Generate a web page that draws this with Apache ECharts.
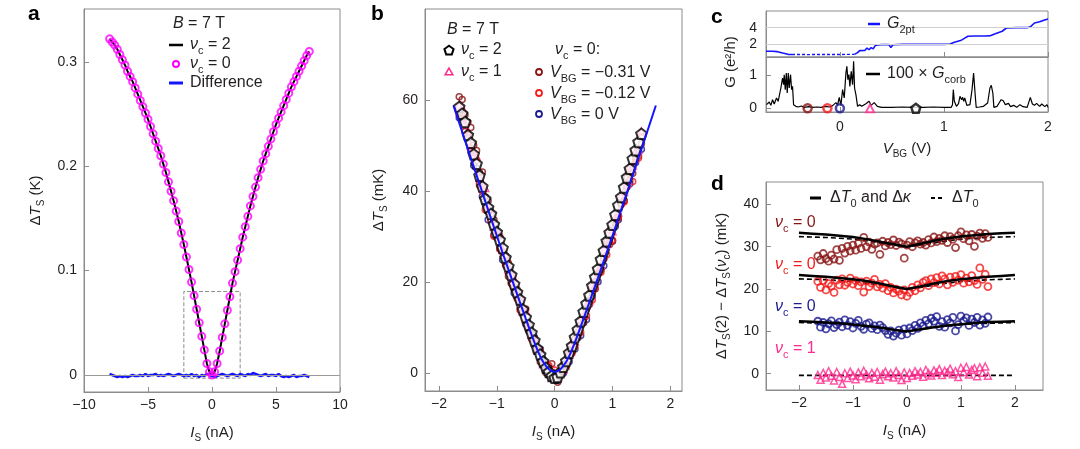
<!DOCTYPE html>
<html><head><meta charset="utf-8">
<script src="https://cdn.jsdelivr.net/npm/echarts@6/dist/echarts.min.js"></script>
<style>html,body{margin:0;padding:0;background:#fff}#c{width:1080px;height:449px}</style>
</head><body><div id="c"></div>
<script>
// ---------- Panel a ----------
const aIs = [-8.0,-7.8,-7.6,-7.4,-7.2,-7.0,-6.8,-6.6,-6.4,-6.2,-6.0,-5.8,-5.6,-5.4,-5.2,-5.0,-4.8,-4.6,-4.4,-4.2,-4.0,-3.8,-3.6,-3.4,-3.2,-3.0,-2.8,-2.6,-2.4,-2.2,-2.0,-1.8,-1.6,-1.4,-1.2,-1.0,-0.8,-0.6,-0.4,-0.2,0,0.2,0.4,0.6,0.8,1.0,1.2,1.4,1.6,1.8,2.0,2.2,2.4,2.6,2.8,3.0,3.2,3.4,3.6,3.8,4.0,4.2,4.4,4.6,4.8,5.0,5.2,5.4,5.6,5.8,6.0,6.2,6.4,6.6,6.8,7.0,7.2,7.4,7.6];
const aDeltaT = [0.322,0.319,0.316,0.312,0.307,0.302,0.297,0.291,0.286,0.281,0.275,0.269,0.263,0.257,0.251,0.245,0.238,0.231,0.224,0.217,0.210,0.202,0.194,0.185,0.176,0.167,0.157,0.147,0.136,0.125,0.113,0.101,0.089,0.076,0.063,0.050,0.037,0.024,0.011,0.003,0.000,0.003,0.011,0.023,0.036,0.049,0.062,0.075,0.088,0.099,0.110,0.121,0.132,0.142,0.152,0.162,0.171,0.180,0.189,0.197,0.205,0.212,0.219,0.226,0.233,0.240,0.246,0.252,0.258,0.264,0.270,0.276,0.281,0.286,0.291,0.296,0.301,0.306,0.310];
const aDiff = [0.001,0.000,-0.001,-0.002,-0.001,-0.002,-0.001,-0.002,-0.001,0.000,-0.001,-0.001,0.000,-0.001,0.001,-0.001,0.000,0.000,0.001,-0.001,0.000,-0.001,0.000,0.001,0.000,-0.001,0.000,0.001,0.000,-0.001,0.000,-0.001,0.001,-0.001,0.000,-0.002,0.000,-0.001,0.001,0.000,-0.001,-0.002,-0.001,0.000,0.001,0.000,-0.001,0.000,0.001,0.000,-0.001,0.001,0.000,-0.001,0.001,0.000,0.002,0.001,0.000,-0.001,0.000,0.001,-0.001,0.000,0.000,-0.001,0.001,-0.001,-0.002,-0.001,-0.002,-0.001,0.000,-0.002,-0.001,-0.001,0.000,-0.001,-0.002];
const aBoxIs = [-2.2, 2.2];
const aBoxDT = [-0.003, 0.080];
const aXTicks = [-10,-5,0,5,10];
const aYTicks = [0,0.1,0.2,0.3];

// ---------- Panels b and d share the same current sweep ----------
const isGrid = [-1.65,-1.60,-1.55,-1.50,-1.45,-1.40,-1.35,-1.30,-1.25,-1.20,-1.15,-1.10,-1.05,-1.00,-0.95,-0.90,-0.85,-0.80,-0.75,-0.70,-0.65,-0.60,-0.55,-0.50,-0.45,-0.40,-0.35,-0.30,-0.25,-0.20,-0.15,-0.10,-0.05,0.00,0.05,0.10,0.15,0.20,0.25,0.30,0.35,0.40,0.45,0.50,0.55,0.60,0.65,0.70,0.75,0.80,0.85,0.90,0.95,1.00,1.05,1.10,1.15,1.20,1.25,1.30,1.35,1.40,1.45,1.50];

// ---------- Panel b (mK) ----------
const bNu2 = [58.5,57.0,55.2,52.3,50.6,48.1,46.0,43.4,41.0,38.3,36.4,35.0,32.7,31.0,29.3,27.5,25.4,23.5,21.6,19.6,17.8,16.2,14.0,12.3,10.6,8.9,7.2,5.4,4.1,2.6,1.2,0.3,-0.6,-1.0,-0.8,0.2,1.4,2.7,4.5,6.0,7.9,9.6,11.4,13.5,15.3,17.1,19.2,21.1,22.9,25.0,26.9,29.0,30.9,32.6,34.8,36.9,38.7,40.8,43.0,44.9,47.1,49.0,50.8,52.6];
const bNu1 = [58.8,58.4,55.0,53.2,50.0,48.6,47.6,43.0,41.8,40.7,36.3,36.0,32.2,31.4,30.6,27.2,26.0,22.8,21.8,20.7,17.6,16.9,13.6,13.7,10.7,8.4,7.8,5.3,5.0,2.0,1.5,1.8,-0.9,0.0,-1.0,0.7,0.8,2.9,4.1,6.7,7.0,9.5,11.8,12.7,15.1,16.0,19.5,20.4,22.6,23.8,27.0,28.4,31.7,31.2,34.4,35.3,38.9,39.9,41.7,45.5,45.6,48.8,49.1,53.1];
const bVbgM031 = [60.7,60.1,56.8,55.1,54.0,50.1,48.9,44.1,44.2,38.7,37.9,34.9,33.7,30.6,30.1,26.7,25.8,21.3,21.6,18.5,18.4,15.6,13.1,14.1,9.3,8.7,6.2,4.9,2.5,2.3,0.1,-0.4,2.1,-1.4,-2.0,0.2,0.5,1.3,3.9,5.0,7.5,7.9,10.5,11.2,14.1,15.1,17.7,18.5,21.9,22.6,25.1,29.2,28.3,29.1,32.9,34.1,37.3,37.9,42.9,42.4,43.9,47.0,47.7,50.4];
const bVbgM012 = [56.7,56.6,53.2,52.5,49.3,47.4,46.8,41.3,40.0,35.9,35.5,33.4,30.1,29.8,27.3,26.7,23.7,24.2,19.7,19.0,16.4,13.9,13.5,11.2,10.4,7.6,7.6,5.0,5.0,2.6,1.7,1.7,-0.4,0.7,0.0,-0.2,1.8,1.7,4.2,4.4,5.9,8.8,9.0,12.0,12.6,15.9,16.1,18.7,21.9,22.2,25.3,26.0,28.8,29.2,33.4,34.3,37.0,37.6,41.0,43.8,42.1,46.7,47.3,52.0];
const bVbg0 = [56.1,56.0,53.1,51.7,48.8,45.6,45.1,41.8,38.8,37.2,33.7,33.6,30.4,30.2,27.4,24.9,24.2,23.0,19.9,17.6,17.1,14.9,13.6,10.8,9.7,8.7,7.9,5.3,5.2,3.0,0.9,1.2,-1.2,-0.4,-1.6,0.0,0.0,2.0,2.5,4.7,5.3,7.8,8.3,11.1,11.8,15.9,16.9,20.1,20.1,23.0,23.6,28.9,29.3,29.0,32.3,33.7,37.3,37.9,40.9,41.6,45.6,46.3,48.9,49.2];
const bFitIs = [-1.75,-1.5,-1.25,-1.0,-0.75,-0.5,-0.4,-0.3,-0.2,-0.1,0,0.1,0.2,0.3,0.4,0.5,0.75,1.0,1.25,1.5,1.75];
const bFit = [58.8,49.2,39.7,30.2,21.0,12.0,8.5,5.2,2.5,0.9,0.3,0.9,2.5,5.2,8.5,12.0,21.0,30.2,39.7,49.2,58.8];
const bXTicks = [-2,-1,0,1,2];
const bYTicks = [0,20,40,60];

// ---------- Panel c ----------
const g2ptLeftV = [-0.71,-0.65,-0.60,-0.55,-0.50,-0.46];
const g2ptLeft = [1.17,1.17,1.12,0.95,0.80,0.78];
const g2ptMidV = [-0.46,-0.30,-0.10,0.05,0.14];
const g2ptMid = [0.78,0.77,0.78,0.79,0.80];
const g2ptRightV = [0.14,0.17,0.19,0.24,0.26,0.28,0.30,0.32,0.34,0.36,0.40,0.47,0.49,0.51,0.60,0.80,1.00,1.06,1.10,1.16,1.20,1.23,1.30,1.40,1.45,1.50,1.56,1.60,1.70,1.80,1.83,1.87,1.92,1.96,2.00];
const g2ptRight = [0.80,1.00,1.24,1.26,1.55,1.35,1.60,1.45,1.85,1.92,1.96,1.98,1.62,1.95,2.00,2.00,2.00,2.04,2.25,2.45,2.75,2.97,3.00,3.00,3.05,3.30,3.57,3.96,4.00,4.00,4.10,4.56,4.70,4.90,5.05];
const gcorbV = [-0.705,-0.679,-0.663,-0.647,-0.631,-0.609,-0.593,-0.577,-0.567,-0.551,-0.541,-0.535,-0.525,-0.515,-0.506,-0.496,-0.487,-0.474,-0.464,-0.455,-0.445,-0.423,-0.40,-0.37,-0.34,-0.30,-0.26,-0.22,-0.18,-0.14,-0.10,-0.07,-0.054,-0.038,-0.022,-0.006,0.010,0.026,0.042,0.058,0.067,0.077,0.087,0.096,0.109,0.122,0.132,0.141,0.154,0.170,0.19,0.21,0.25,0.28,0.30,0.33,0.36,0.40,0.50,0.60,0.70,0.80,0.90,1.00,1.07,1.082,1.090,1.10,1.12,1.14,1.154,1.17,1.18,1.19,1.20,1.22,1.23,1.25,1.27,1.285,1.30,1.31,1.34,1.38,1.42,1.442,1.455,1.47,1.48,1.51,1.53,1.55,1.57,1.59,1.62,1.64,1.67,1.70,1.73,1.76,1.80,1.83,1.85,1.87,1.89,1.92,1.94,1.97,1.99,2.00];
const gcorb100 = [0.11,0.19,0.09,0.26,0.13,0.31,0.21,0.46,0.61,0.91,0.71,1.01,0.56,1.06,0.46,1.06,0.61,1.01,0.56,0.66,0.11,0.06,0.04,0.07,0.03,0.05,0.03,0.04,0.03,0.06,0.04,0.08,0.12,0.17,0.10,0.33,0.09,0.56,0.31,1.06,1.26,0.86,1.01,0.66,1.11,0.71,1.41,0.61,0.41,0.06,0.11,0.06,0.14,0.21,0.09,0.17,0.06,0.03,0.03,0.04,0.03,0.03,0.04,0.03,0.03,0.11,0.56,0.21,0.06,0.14,0.36,0.26,0.33,0.21,0.31,0.09,0.03,0.11,0.56,1.06,0.41,0.03,0.04,0.06,0.16,0.61,0.69,0.46,0.03,0.06,0.16,0.26,0.23,0.11,0.15,0.05,0.09,0.03,0.11,0.05,0.03,0.33,0.13,0.09,0.15,0.06,0.13,0.05,0.11,0.03];
const cMarkVbg = [-0.31, -0.12, 0, 0.29, 0.73];
const cXTicks = [0,1,2];
const cTopTicks = [2,4];
const cBotTicks = [0,1];

// ---------- Panel d (mK, offset for clarity) ----------
const dVbgM031 = [27.8,26.9,28.4,27.2,26.6,28.0,27.1,29.3,26.8,29.6,28.5,30.1,29.0,30.4,29.2,30.8,29.6,32.2,30.0,31.1,29.4,30.6,30.9,28.2,31.3,30.2,31.0,30.5,31.6,30.3,31.1,30.7,27.3,30.4,31.2,30.0,30.9,31.4,30.6,31.0,30.4,31.7,30.9,32.3,31.2,32.0,31.5,32.6,31.0,32.4,31.8,29.8,32.6,33.5,31.9,32.8,31.4,32.9,30.1,32.5,33.2,32.0,33.1,32.2];
const dVbgM012 = [21.8,20.4,22.0,19.8,21.3,20.7,19.2,22.1,21.0,22.4,20.9,21.6,22.6,21.2,22.0,20.8,21.7,19.3,21.9,20.6,21.4,22.3,20.5,21.1,20.2,21.3,19.6,20.4,19.1,20.0,19.5,18.6,19.8,18.3,19.2,20.4,19.6,21.0,20.3,21.6,22.0,20.8,22.4,21.5,22.7,21.2,23.1,22.4,21.0,22.8,21.6,23.0,22.1,23.4,21.4,22.6,21.7,23.2,22.0,21.1,25.0,22.3,23.5,20.6];
const dVbg0 = [12.4,11.0,12.1,10.6,11.8,12.5,10.9,11.6,12.2,11.1,12.7,11.4,12.3,10.8,11.9,12.6,11.2,10.5,11.7,12.0,10.7,11.3,10.4,11.5,10.9,10.2,9.3,10.1,8.9,9.6,10.3,9.1,10.6,9.4,10.8,10.2,11.4,10.7,12.0,11.3,12.6,11.8,13.1,12.4,13.5,11.2,12.3,11.0,12.8,12.0,13.3,10.1,11.6,13.6,12.5,13.2,11.4,12.9,12.1,13.3,11.5,12.7,11.9,13.4];
const dNu1 = [-0.3,-1.4,0.2,-0.9,0.6,-0.5,-1.6,0.4,-0.8,-2.4,0.1,-1.0,0.5,-0.4,-1.3,0.3,-0.6,0.7,-0.2,-1.1,0.2,-0.7,0.4,-1.4,-0.1,0.5,-0.6,0.1,-0.9,0.6,-0.3,-1.5,0.3,-1.0,0.2,-0.5,0.6,-0.2,0.4,-0.7,0.9,0.1,-0.4,0.8,0.2,1.1,-0.3,0.7,0.3,1.2,-0.1,0.6,-0.8,1.4,0.4,1.6,-0.2,0.9,1.3,-0.6,1.5,0.2,1.7,-0.5];
const dFitIs = [-2,-1.75,-1.5,-1.25,-1,-0.75,-0.5,-0.25,0,0.25,0.5,0.75,1,1.25,1.5,1.75,2];
const dFitM031 = [33.3,33.1,32.9,32.6,32.3,31.8,31.2,30.6,30.0,30.7,31.4,32.0,32.4,32.7,33.0,33.2,33.3];
const dT0M031 = [32.4,32.3,32.2,32.0,31.8,31.4,30.9,30.4,30.0,30.4,30.9,31.4,31.8,32.0,32.2,32.3,32.4];
const dFitM012 = [23.3,23.1,22.9,22.6,22.3,21.9,21.3,20.6,20.0,20.6,21.3,21.9,22.3,22.6,22.9,23.1,23.3];
const dT0M012 = [22.4,22.3,22.2,22.0,21.8,21.4,20.9,20.4,20.0,20.4,20.9,21.4,21.8,22.0,22.2,22.3,22.4];
const dFit0 = [12.4,12.3,12.1,11.9,11.6,11.3,10.9,10.4,10.0,10.5,11.0,11.4,11.7,12.0,12.2,12.3,12.4];
const dT00 = [12.1,12.0,11.9,11.8,11.6,11.3,10.9,10.4,10.0,10.4,10.9,11.3,11.6,11.8,11.9,12.0,12.1];
const dNu1LineIs = [-2, 2];
const dT0Nu1 = [-0.4, -0.4];
const dXTicks = [-2,-1,0,1,2];
const dYTicks = [0,10,20,30,40];

// ---------- styling ----------
const FONT = "'Liberation Sans', Arial, Helvetica, sans-serif";
const TXT = '#231f20';
const AXC = '#8c8c8c';
const BLUE = '#1414ff';
const MAGENTA = '#ff00ff';
const DRED = '#8a1515';
const RED = '#f41c1c';
const NAVY = '#1c1c8e';
const PINK = '#ff2a8e';
const PENTA = 'path://M0,-10 L9.51,-3.09 L5.88,8.09 L-5.88,8.09 L-9.51,-3.09 Z';

const zip = (xs, ys) => xs.map((x, i) => [x, ys[i]]);
const fmt = v => (v < 0 ? '\u2212' + Math.abs(v) : String(v));

function richA(fs, color) {
  const lh = fs + 6, ss = Math.round(fs * 0.66);
  return {
    n: {fontSize: fs, fontFamily: FONT, color, lineHeight: lh, verticalAlign: 'middle'},
    i: {fontSize: fs, fontFamily: FONT, fontStyle: 'italic', color, lineHeight: lh, verticalAlign: 'middle'},
    s: {fontSize: ss, fontFamily: FONT, color, lineHeight: ss, verticalAlign: 'bottom'}
  };
}
function richG(fs, color) {
  const r = richA(fs, color);
  Object.keys(r).forEach(k => { r[k].fill = color; });
  return r;
}
function gtext(x, y, text, color, fs, align, rotation) {
  return {
    type: 'text', x, y, z: 100, silent: true, rotation: rotation || 0,
    style: {text, rich: richG(fs || 16, color || TXT), fill: color || TXT, fontSize: fs || 16,
            fontFamily: FONT, align: align || 'left', verticalAlign: 'middle'}
  };
}
function gline(x1, y1, x2, y2, color, w) {
  return {type: 'line', z: 100, silent: true, shape: {x1, y1, x2, y2}, style: {stroke: color, lineWidth: w}};
}
function gcircle(cx, cy, r, color, w) {
  return {type: 'circle', z: 100, silent: true, shape: {cx, cy, r}, style: {fill: 'none', stroke: color, lineWidth: w}};
}
function gpoly(cx, cy, r, n, color, w, fill) {
  const pts = [];
  for (let k = 0; k < n; k++) {
    const ang = -Math.PI / 2 + k * 2 * Math.PI / n;
    pts.push([cx + r * Math.cos(ang), cy + r * Math.sin(ang)]);
  }
  return {type: 'polygon', z: 100, silent: true, shape: {points: pts}, style: {fill: fill || 'none', stroke: color, lineWidth: w}};
}

function axis(gi, min, max, ticks, o) {
  o = o || {};
  const a = {
    type: 'value', gridIndex: gi, min, max,
    axisLine: {show: true, onZero: false, lineStyle: {color: AXC, width: 1}},
    axisTick: {show: true, inside: true, length: 5, customValues: ticks, lineStyle: {color: AXC, width: 1}},
    axisLabel: {show: o.labels !== false, customValues: ticks, formatter: fmt, color: TXT, fontSize: 14,
                fontFamily: FONT, margin: o.margin || 7},
    splitLine: {show: false}
  };
  if (o.name) {
    a.name = o.name; a.nameLocation = 'middle'; a.nameGap = o.nameGap;
    a.nameTextStyle = {rich: richA(15, TXT), fontSize: 15, fontFamily: FONT, color: TXT};
  }
  return a;
}

const grids = [
  {left: 84, top: 9, width: 256, height: 383},
  {left: 425, top: 9, width: 257, height: 382},
  {left: 766, top: 11, width: 282, height: 46},
  {left: 766, top: 57, width: 282, height: 55},
  {left: 766, top: 182, width: 277, height: 208}
].map(g => Object.assign({show: true, borderColor: AXC, borderWidth: 1, backgroundColor: 'transparent'}, g));

const xAxes = [
  axis(0, -10, 10, aXTicks, {name: '{i|I}{s|S}{n| (nA)}', nameGap: 30, margin: 6}),
  axis(1, -2.242, 2.202, bXTicks, {name: '{i|I}{s|S}{n| (nA)}', nameGap: 30, margin: 6}),
  axis(2, -0.71, 2.0, cXTicks, {labels: false}),
  axis(3, -0.71, 2.0, cXTicks, {name: '{i|V}{s|BG}{n| (V)}', nameGap: 26, margin: 8}),
  axis(4, -2.61, 2.52, dXTicks, {name: '{i|I}{s|S}{n| (nA)}', nameGap: 30, margin: 6})
];
const yAxes = [
  axis(0, -0.0163, 0.3506, aYTicks, {name: '{n|Δ}{i|T}{s|S}{n| (K)}', nameGap: 38}),
  axis(1, -3.9, 80.0, bYTicks, {name: '{n|Δ}{i|T}{s|S}{n| (mK)}', nameGap: 36}),
  axis(2, 0.48, 6.0, cTopTicks, {margin: 9}),
  axis(3, -0.11, 1.54, cBotTicks, {margin: 9}),
  axis(4, -3.85, 45.3, dYTicks, {name: '{n|Δ}{i|T}{s|S}{n|(2) − Δ}{i|T}{s|S}{n|(}{i|ν}{s|c}{n|) (mK)}', nameGap: 34, margin: 7})
];

function circ(gi, xs, ys, color, size, bw, name, z) {
  return {type: 'scatter', name, xAxisIndex: gi, yAxisIndex: gi, data: zip(xs, ys), symbol: 'circle',
          symbolSize: size, z: z || 2, itemStyle: {color: 'rgba(255,255,255,0)', borderColor: color, borderWidth: bw}};
}
function line(gi, xs, ys, color, width, type, name, z, smooth) {
  return {type: 'line', name, xAxisIndex: gi, yAxisIndex: gi, data: zip(xs, ys), symbol: 'none', showSymbol: false,
          smooth: smooth || false, z: z || 2, lineStyle: {color, width, type: type || 'solid'}};
}

const series = [
  // ---- a ----
  Object.assign(line(0, aIs, aDeltaT, '#000', 2, 'solid', 'νc = 2', 3), {
    markLine: {silent: true, symbol: ['none', 'none'], label: {show: false},
               lineStyle: {color: '#9a9a9a', width: 1, type: 'solid'}, data: [{yAxis: 0}]},
    markArea: {silent: true, itemStyle: {color: 'rgba(0,0,0,0)', borderColor: '#8c8c8c', borderWidth: 1, borderType: 'dashed'},
               data: [[{xAxis: aBoxIs[0], yAxis: aBoxDT[0]}, {xAxis: aBoxIs[1], yAxis: aBoxDT[1]}]]}
  }),
  line(0, aIs, aDiff, BLUE, 2.5, 'solid', 'Difference', 4),
  circ(0, aIs, aDeltaT, MAGENTA, 7, 2, 'νc = 0', 5),
  // ---- b ----
  circ(1, isGrid, bVbg0, NAVY, 6, 1.5, 'VBG = 0 V', 2),
  circ(1, isGrid, bVbgM031, DRED, 6, 1.5, 'VBG = -0.31 V', 2),
  {type: 'scatter', name: 'νc = 1', xAxisIndex: 1, yAxisIndex: 1, data: zip(isGrid, bNu1), symbol: 'triangle',
   symbolSize: 7, z: 2, itemStyle: {color: 'rgba(255,255,255,0)', borderColor: PINK, borderWidth: 1.5}},
  circ(1, isGrid, bVbgM012, RED, 6, 1.5, 'VBG = -0.12 V', 2),
  {type: 'scatter', name: 'νc = 2', xAxisIndex: 1, yAxisIndex: 1, data: zip(isGrid, bNu2), symbol: PENTA,
   symbolSize: 10.5, z: 3, itemStyle: {color: '#fff', borderColor: '#000', borderWidth: 2}},
  line(1, bFitIs, bFit, BLUE, 2, 'solid', 'fit', 4, 0.4),
  // ---- c top ----
  Object.assign(line(2, g2ptLeftV, g2ptLeft, BLUE, 1.6, 'solid', 'G2pt', 3), {
    markLine: {silent: true, symbol: ['none', 'none'], label: {show: false},
               lineStyle: {color: '#d0d0d0', width: 1, type: 'solid'}, data: [{yAxis: cTopTicks[0]}, {yAxis: cTopTicks[1]}]}
  }),
  line(2, g2ptMidV, g2ptMid, BLUE, 1.4, [3, 2], 'G2pt', 3),
  line(2, g2ptRightV, g2ptRight, BLUE, 1.6, 'solid', 'G2pt', 3),
  // ---- c bottom ----
  line(3, gcorbV, gcorb100, '#000', 1.2, 'solid', '100 × Gcorb', 3),
  circ(3, [cMarkVbg[0]], [0], DRED, 8, 2.5, 'VBG = -0.31 V', 5),
  circ(3, [cMarkVbg[1]], [0], RED, 8, 2.5, 'VBG = -0.12 V', 5),
  circ(3, [cMarkVbg[2]], [0], NAVY, 8, 2.5, 'VBG = 0 V', 5),
  {type: 'scatter', xAxisIndex: 3, yAxisIndex: 3, data: [[cMarkVbg[3], 0]], symbol: 'triangle', symbolSize: 8, z: 5,
   itemStyle: {color: '#fff', borderColor: PINK, borderWidth: 2}},
  {type: 'scatter', xAxisIndex: 3, yAxisIndex: 3, data: [[cMarkVbg[4], 0]], symbol: PENTA, symbolSize: 9, z: 5,
   itemStyle: {color: '#fff', borderColor: '#000', borderWidth: 2.5}},
  // ---- d ----
  line(4, dFitIs, dT0M031, '#000', 1.6, [5, 3], 'ΔT0', 2),
  line(4, dFitIs, dT0M012, '#000', 1.6, [5, 3], 'ΔT0', 2),
  line(4, dFitIs, dT00, '#000', 1.6, [5, 3], 'ΔT0', 2),
  line(4, dNu1LineIs, dT0Nu1, '#000', 1.6, [5, 3], 'ΔT0', 2),
  circ(4, isGrid, dVbgM031, DRED, 7, 1.8, 'VBG = -0.31 V', 3),
  circ(4, isGrid, dVbgM012, RED, 7, 1.8, 'VBG = -0.12 V', 3),
  circ(4, isGrid, dVbg0, NAVY, 7, 1.8, 'VBG = 0 V', 3),
  {type: 'scatter', name: 'νc = 1', xAxisIndex: 4, yAxisIndex: 4, data: zip(isGrid, dNu1), symbol: 'triangle',
   symbolSize: 7, z: 3, itemStyle: {color: 'rgba(255,255,255,0)', borderColor: PINK, borderWidth: 1.5}},
  line(4, dFitIs, dFitM031, '#000', 2.5, 'solid', 'ΔT0 and Δκ', 4),
  line(4, dFitIs, dFitM012, '#000', 2.5, 'solid', 'ΔT0 and Δκ', 4),
  line(4, dFitIs, dFit0, '#000', 2.5, 'solid', 'ΔT0 and Δκ', 4)
];

const BOLD = {fontSize: 21, fontWeight: 'bold', fontFamily: FONT, fill: '#000', align: 'left', verticalAlign: 'middle'};
const graphic = [
  // panel letters
  {type: 'text', x: 28, y: 14.5, z: 100, style: Object.assign({text: 'a'}, BOLD)},
  {type: 'text', x: 371, y: 14.5, z: 100, style: Object.assign({text: 'b'}, BOLD)},
  {type: 'text', x: 711, y: 17, z: 100, style: Object.assign({text: 'c'}, BOLD)},
  {type: 'text', x: 711, y: 184.5, z: 100, style: Object.assign({text: 'd'}, BOLD)},
  // panel a legend
  gtext(173, 24, '{i|B}{n| = 7 T}'),
  gline(169, 45, 183, 45, '#000', 2.5),
  gtext(190, 45, '{i|ν}{s|c}{n| = 2}'),
  gcircle(176, 64, 3, MAGENTA, 2),
  gtext(190, 64, '{i|ν}{s|c}{n| = 0}'),
  gline(169, 83, 183, 83, BLUE, 3),
  gtext(190, 83, '{n|Difference}'),
  // panel b legend
  gtext(447, 30, '{i|B}{n| = 7 T}'),
  gpoly(449, 50.5, 4.8, 5, '#000', 2, '#fff'),
  gtext(461, 50, '{i|ν}{s|c}{n| = 2}'),
  gpoly(449, 72.5, 4.5, 3, PINK, 1.5),
  gtext(461, 72, '{i|ν}{s|c}{n| = 1}'),
  gtext(555, 50, '{i|ν}{s|c}{n| = 0:}'),
  gcircle(539, 72, 3, DRED, 1.8),
  gtext(550, 73, '{i|V}{s|BG}{n| = −0.31 V}'),
  gcircle(539, 93, 3, RED, 1.8),
  gtext(550, 94, '{i|V}{s|BG}{n| = −0.12 V}'),
  gcircle(539, 114, 3, NAVY, 1.8),
  gtext(550, 115, '{i|V}{s|BG}{n| = 0 V}'),
  // panel c legend / labels
  gline(868, 24, 880, 24, BLUE, 2.5),
  gtext(887, 24, '{i|G}{s|2pt}'),
  gline(866, 74, 880, 74, '#000', 2.5),
  gtext(887, 74, '{n|100 × }{i|G}{s|corb}'),
  gtext(731, 62, '{n|G (e²/h)}', TXT, 15, 'center', Math.PI / 2),
  // panel d legend / labels
  gline(810, 198, 821, 198, '#000', 3),
  gtext(830, 198, '{n|Δ}{i|T}{s|0}{n| and Δ}{i|κ}'),
  gline(931, 198, 935, 198, '#000', 2),
  gline(938, 198, 942, 198, '#000', 2),
  gtext(952, 198, '{n|Δ}{i|T}{s|0}'),
  gtext(775, 223, '{i|ν}{s|c}{n| = 0}', DRED, 16),
  gtext(775, 265, '{i|ν}{s|c}{n| = 0}', RED, 16),
  gtext(775, 307, '{i|ν}{s|c}{n| = 0}', NAVY, 16),
  gtext(775, 349, '{i|ν}{s|c}{n| = 1}', PINK, 16)
];

const chart = echarts.init(document.getElementById('c'), null, {renderer: 'canvas', width: 1080, height: 449});
chart.setOption({
  animation: false,
  backgroundColor: '#fff',
  textStyle: {fontFamily: FONT},
  grid: grids, xAxis: xAxes, yAxis: yAxes,
  series, graphic
});
</script></body></html>
